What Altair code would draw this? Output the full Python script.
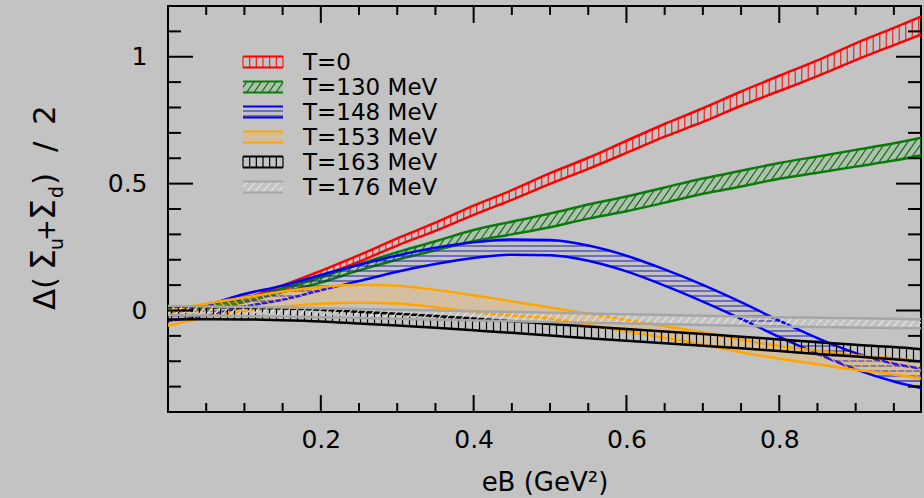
import numpy as np
import pandas as pd
import altair as alt

# ---------------- data ----------------
x_grid = [0.0, 0.05, 0.1, 0.15, 0.2, 0.25, 0.3, 0.35, 0.4, 0.45, 0.5,
          0.55, 0.6, 0.65, 0.7, 0.75, 0.8, 0.85, 0.9, 0.95, 1.0]

red_c = [0.0, 0.012, 0.04, 0.09, 0.145, 0.205, 0.27, 0.33, 0.395, 0.455, 0.52,
         0.58, 0.645, 0.71, 0.77, 0.835, 0.895, 0.955, 1.02, 1.08, 1.14]
red_e = [0.004, 0.005, 0.007, 0.009, 0.011, 0.013, 0.014, 0.016, 0.018, 0.019, 0.021,
         0.022, 0.024, 0.025, 0.027, 0.028, 0.030, 0.031, 0.033, 0.034, 0.036]

green_c = [0.0, 0.012, 0.04, 0.08, 0.12, 0.17, 0.215, 0.255, 0.295, 0.325, 0.355,
           0.39, 0.42, 0.455, 0.49, 0.52, 0.55, 0.575, 0.6, 0.625, 0.655]
green_e = [0.004, 0.005, 0.006, 0.008, 0.010, 0.012, 0.015, 0.018, 0.022, 0.025, 0.027,
           0.028, 0.029, 0.030, 0.030, 0.031, 0.031, 0.032, 0.033, 0.034, 0.035]

blue_c = [-0.02, 0.0, 0.04, 0.07, 0.11, 0.148, 0.185, 0.215, 0.238, 0.25, 0.248,
          0.226, 0.185, 0.13, 0.068, 0.0, -0.072, -0.14, -0.2, -0.245, -0.275]
blue_e = [0.020, 0.022, 0.025, 0.028, 0.030, 0.032, 0.032, 0.032, 0.031, 0.030, 0.030,
          0.030, 0.031, 0.032, 0.033, 0.033, 0.032, 0.031, 0.032, 0.035, 0.040]

orange_c = [-0.03, 0.0, 0.025, 0.045, 0.06, 0.066, 0.063, 0.047, 0.027, 0.008, -0.01,
            -0.035, -0.06, -0.085, -0.11, -0.14, -0.165, -0.185, -0.205, -0.22, -0.24]
orange_e = [0.030, 0.027, 0.026, 0.030, 0.033, 0.035, 0.035, 0.034, 0.033, 0.028, 0.022,
            0.022, 0.023, 0.023, 0.024, 0.025, 0.025, 0.027, 0.029, 0.032, 0.035]

black_c = [-0.01, -0.01, -0.012, -0.015, -0.02, -0.028, -0.036, -0.045, -0.055, -0.065, -0.076,
           -0.086, -0.096, -0.106, -0.116, -0.126, -0.137, -0.148, -0.158, -0.168, -0.18]
black_e = [0.025, 0.024, 0.023, 0.023, 0.023, 0.023, 0.023, 0.023, 0.023, 0.023, 0.023,
           0.023, 0.023, 0.023, 0.023, 0.023, 0.023, 0.023, 0.023, 0.024, 0.024]

gray_c = [0.0, -0.002, -0.004, -0.006, -0.009, -0.012, -0.015, -0.018, -0.021, -0.024, -0.027,
          -0.03, -0.033, -0.036, -0.039, -0.042, -0.045, -0.047, -0.049, -0.051, -0.053]
gray_e = [0.018] * 21

labels = ["T=0", "T=130 MeV", "T=148 MeV", "T=153 MeV", "T=163 MeV", "T=176 MeV"]

x_major = [0.2, 0.4, 0.6, 0.8]
x_minor = [0.05, 0.1, 0.15, 0.25, 0.3, 0.35, 0.45, 0.5, 0.55, 0.65, 0.7, 0.75, 0.85, 0.9, 0.95]
y_major = [0.0, 0.5, 1.0]
y_minor = [-0.3, -0.2, -0.1, 0.1, 0.2, 0.3, 0.4, 0.6, 0.7, 0.8, 0.9, 1.1]

# ---------------- layout ----------------
W, H = 753, 406
PAD_L, PAD_T = 168, 6
X0, X1 = 0.0, 0.9855
Y0, Y1 = -0.4, 1.2
FONT = "DejaVu Sans"


def px_of(x):
    return (np.asarray(x, float) - X0) / (X1 - X0) * W


def py_of(y):
    return (Y1 - np.asarray(y, float)) / (Y1 - Y0) * H


def x_of(px):
    return X0 + np.asarray(px, float) / W * (X1 - X0)


def y_of(py):
    return Y1 - np.asarray(py, float) / H * (Y1 - Y0)


def hatch_px(px, top, bot, kind, sp, ang=45.0):
    """hatch segments (pixel space) filling the region top<=y<=bot"""
    segs = []
    if kind == "v":
        for xv in np.arange(px[0] + sp / 2, px[-1], sp):
            segs.append((xv, np.interp(xv, px, top), xv, np.interp(xv, px, bot)))
        return segs
    if kind == "h":
        m = 0.0
    elif kind == "f":
        m = -np.tan(np.radians(ang))
    else:
        m = np.tan(np.radians(ang))
    step = sp * np.sqrt(1 + m * m)
    cmin = np.min(top - m * px)
    cmax = np.max(bot - m * px)
    for c in np.arange(np.floor(cmin / step) * step, cmax + step, step):
        yl = m * px + c
        inside = (yl >= top) & (yl <= bot)
        if not inside.any():
            continue
        d = np.diff(np.concatenate([[0], inside.astype(int), [0]]))
        st = np.where(d == 1)[0]
        en = np.where(d == -1)[0] - 1
        for s, e in zip(st, en):
            if e > s:
                segs.append((px[s], yl[s], px[e], yl[e]))
    return segs


def segs_to_df(segs):
    a = np.array(segs, float).reshape(-1, 4)
    return pd.DataFrame({"x": x_of(a[:, 0]), "y": y_of(a[:, 1]),
                         "x2": x_of(a[:, 2]), "y2": y_of(a[:, 3])})


xs = alt.Scale(domain=[X0, X1], nice=False, zero=False)
ys = alt.Scale(domain=[Y0, Y1], nice=False, zero=False)
xaxis = alt.Axis(values=x_major, format=".1f", labelFontSize=25, labelFont=FONT,
                 labelColor="black", ticks=False, tickSize=0, domain=False, grid=False,
                 labelPadding=35, labelBaseline="alphabetic", title="eB (GeV²)",
                 titleFontSize=26, titleFont=FONT, titleFontWeight="normal",
                 titleColor="black", titleY=78, titleBaseline="alphabetic")
yaxis = alt.Axis(values=y_major, format="~g", labelFontSize=25, labelFont=FONT,
                 labelColor="black", ticks=False, tickSize=0, domain=False, grid=False,
                 labelPadding=21, labelBaseline="middle", labelAlign="right", title=None)


def X(f):
    return alt.X(f, scale=xs, axis=xaxis)


def Y(f):
    return alt.Y(f, scale=ys, axis=yaxis)


bands = [
    dict(c=red_c, e=red_e, line="#ff0000", hatch="#ff1a1a", kind="v", sp=6.5, ang=0, fill=None, fo=0),
    dict(c=green_c, e=green_e, line="#0b7a0b", hatch="#2f5a2f", kind="f", sp=6.0, ang=55, fill="#66cc66", fo=0.3),
    dict(c=blue_c, e=blue_e, line="#0000ff", hatch="#1c1ca8", kind="h", sp=5.0, ang=0, fill=None, fo=0),
    dict(c=orange_c, e=orange_e, line="#ffa500", hatch="#f5b65c", kind="b", sp=6.0, ang=50, fill="#ffb347", fo=0.15),
    dict(c=black_c, e=black_e, line="#000000", hatch="#000000", kind="v", sp=7.0, ang=0, fill=None, fo=0),
    dict(c=gray_c, e=gray_e, line="#a6a6a6", hatch="#e2e2e2", kind="f", sp=6.0, ang=50, fill=None, fo=0),
]

layers = []
fx = np.linspace(X0, X1, 3001)
fpx = px_of(fx)
for b in bands:
    lo = np.array(b["c"]) - np.array(b["e"])
    hi = np.array(b["c"]) + np.array(b["e"])
    df = pd.DataFrame({"x": x_grid, "lo": lo, "hi": hi})
    if b["fill"]:
        layers.append(alt.Chart(df).mark_area(color=b["fill"], opacity=b["fo"], clip=True,
                                              interpolate="monotone")
                      .encode(x=X("x:Q"), y=Y("lo:Q"), y2="hi:Q"))
    top = py_of(np.interp(fx, x_grid, hi))
    bot = py_of(np.interp(fx, x_grid, lo))
    hdf = segs_to_df(hatch_px(fpx, top, bot, b["kind"], b["sp"], b["ang"]))
    layers.append(alt.Chart(hdf).mark_rule(color=b["hatch"], strokeWidth=1.2, clip=True)
                  .encode(x=X("x:Q"), y=Y("y:Q"), x2="x2:Q", y2="y2:Q"))
    for f in ("lo", "hi"):
        layers.append(alt.Chart(df).mark_line(color=b["line"], strokeWidth=2.5, clip=True,
                                              interpolate="monotone")
                      .encode(x=X("x:Q"), y=Y(f + ":Q")))

# ---------------- legend (inside plot) ----------------
for i, b in enumerate(bands):
    cy = 56 + 25 * i
    t, bt = cy - 5.5, cy + 5.5
    lpx = np.linspace(75, 115, 161)
    segs = []
    if b["kind"] == "v":
        for xv in np.linspace(75, 115, 7):
            segs.append((xv, t, xv, bt))
    else:
        segs = hatch_px(lpx, np.full_like(lpx, t), np.full_like(lpx, bt), b["kind"], b["sp"], b["ang"])
    if b["fill"]:
        fdf = pd.DataFrame({"x": [x_of(75)], "x2": [x_of(115)], "y": [y_of(t)], "y2": [y_of(bt)]})
        layers.append(alt.Chart(fdf).mark_rect(color=b["fill"], opacity=b["fo"])
                      .encode(x=X("x:Q"), x2="x2:Q", y=Y("y:Q"), y2="y2:Q"))
    layers.append(alt.Chart(segs_to_df(segs)).mark_rule(color=b["hatch"], strokeWidth=1.2)
                  .encode(x=X("x:Q"), y=Y("y:Q"), x2="x2:Q", y2="y2:Q"))
    edf = segs_to_df([(75, t, 115, t), (75, bt, 115, bt)])
    layers.append(alt.Chart(edf).mark_rule(color=b["line"], strokeWidth=2)
                  .encode(x=X("x:Q"), y=Y("y:Q"), x2="x2:Q", y2="y2:Q"))

leg = pd.DataFrame({"label": labels,
                    "x": [float(x_of(135))] * 6,
                    "y": [float(y_of(56 + 25 * i + 1)) for i in range(6)]})
layers.append(alt.Chart(leg).mark_text(align="left", baseline="middle", fontSize=23,
                                       font=FONT, color="black")
              .encode(x=X("x:Q"), y=Y("y:Q"), text="label:N"))

# ---------------- inward ticks on all four sides ----------------
def xticks(vals, ln):
    d = pd.DataFrame({"v": vals})
    return [alt.Chart(d).mark_rule(color="black", strokeWidth=2)
            .encode(x=X("v:Q"), y=alt.value(H), y2=alt.value(H - ln)),
            alt.Chart(d).mark_rule(color="black", strokeWidth=2)
            .encode(x=X("v:Q"), y=alt.value(0), y2=alt.value(ln))]


def yticks(vals, ln):
    d = pd.DataFrame({"v": vals})
    return [alt.Chart(d).mark_rule(color="black", strokeWidth=2)
            .encode(y=Y("v:Q"), x=alt.value(0), x2=alt.value(ln)),
            alt.Chart(d).mark_rule(color="black", strokeWidth=2)
            .encode(y=Y("v:Q"), x=alt.value(W), x2=alt.value(W - ln))]


layers += xticks(x_major, 17) + xticks(x_minor, 9) + yticks(y_major, 25) + yticks(y_minor, 13)

# ---------------- y-axis title  Δ(Σ_u + Σ_d) / 2  (glyph runs, rotated) ----------------
# (text, start position along the page from the bottom, font size, is subscript)
pieces = [("Δ", 310, 31, False), ("(", 289, 31, False), ("Σ", 270, 33, False),
          ("u", 250, 19, True), ("+", 241, 26, False), ("Σ", 220, 33, False),
          ("d", 198, 19, True), (")", 185, 31, False), ("/", 152, 31, False),
          ("2", 125, 31, False)]
for txt, ystart, fs, sub in pieces:
    layers.append(alt.Chart(pd.DataFrame({"t": [txt]}))
                  .mark_text(align="left", baseline="alphabetic", angle=270, fontSize=fs,
                             font=FONT, color="black")
                  .encode(x=alt.value((63 if sub else 55) - PAD_L), y=alt.value(ystart - PAD_T),
                          text="t:N"))

chart = (alt.layer(*layers)
         .properties(width=W, height=H,
                     autosize=alt.AutoSizeParams(type="none"),
                     padding={"left": PAD_L, "top": PAD_T, "right": 924 - PAD_L - W,
                              "bottom": 498 - PAD_T - H})
         .configure(background="#c3c3c3")
         .configure_view(stroke="black", strokeWidth=2))

chart.save("out.html", embed_options={"renderer": "svg", "actions": False})
